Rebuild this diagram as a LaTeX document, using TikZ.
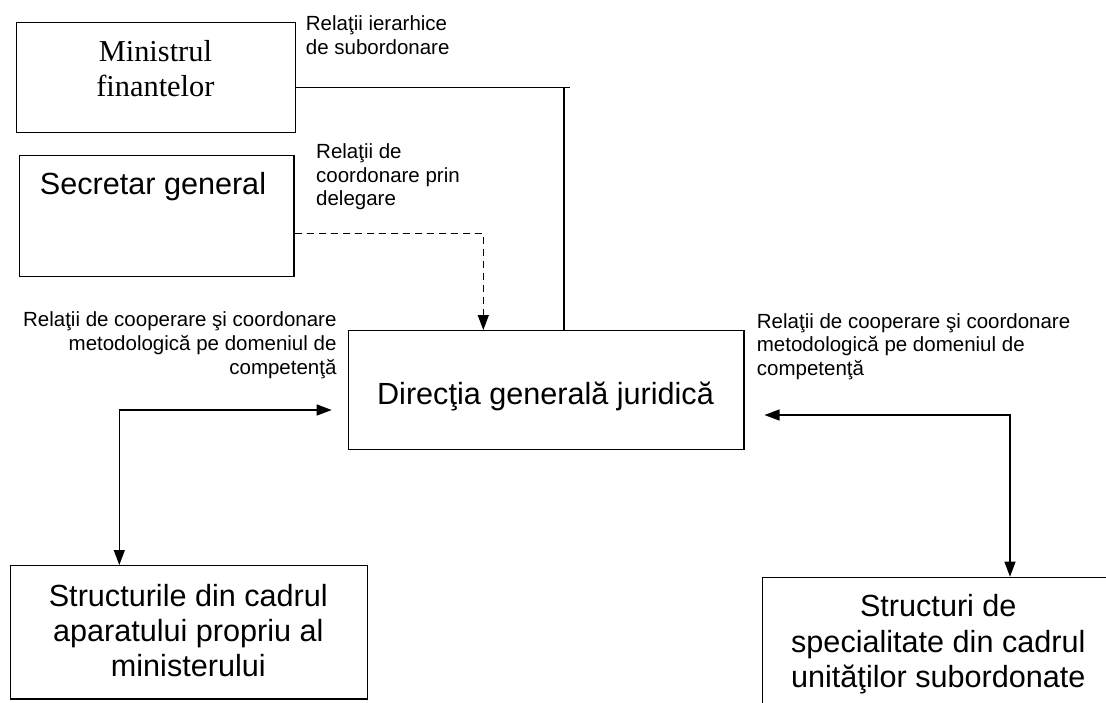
\documentclass[tikz,border=0pt]{standalone}
\usepackage{fontspec}
\setmainfont{Liberation Sans}
\newfontfamily\timesfont{Liberation Serif}
\usetikzlibrary{arrows.meta,calc}
\begin{document}
\begin{tikzpicture}[x=1pt,y=-1pt,
  box/.style={draw, line width=1.2pt, rectangle, inner sep=0pt, anchor=north west},
  conn/.style={line width=1.2pt},
  tri/.tip={Triangle[length=15pt,width=11pt]},
  lbl/.style={inner sep=0pt, font=\fontsize{20.5}{23.8}\selectfont},
  bigsans/.style={inner sep=0pt, anchor=base, font=\fontsize{30.6}{35.3}\selectfont},
  bigserif/.style={inner sep=0pt, anchor=base, font=\timesfont\fontsize{30.4}{35}\selectfont},
]
\clip (0,0) rectangle (1106,702);
\fill[white] (0,0) rectangle (1106,702);

% boxes
\node[box, minimum width=279.3pt, minimum height=110pt] (min) at (15.7,21.7) {};
\node[box, minimum width=274.3pt, minimum height=121pt] (sec) at (19,155) {};
\node[box, minimum width=395.6pt, minimum height=118.5pt] (dir) at (347.7,330) {};
\node[box, minimum width=356.7pt, minimum height=133.3pt] (str) at (10,565) {};
\node[box, minimum width=353.3pt, minimum height=150pt] (spec) at (761.7,576.7) {};

% box texts
\node[bigserif] (minT) at (155.4,61.7) {\begin{tabular}[t]{@{}c@{}}Ministrul\\finantelor\end{tabular}};
\node[bigsans] (secT) at (153,194.3) {Secretar general};
\node[bigsans] (dirT) at (545.5,404) {Direcţia generală juridică};
\node[bigsans] (strT) at (188.3,606) {\begin{tabular}[t]{@{}c@{}}Structurile din cadrul\\aparatului propriu al\\ministerului\end{tabular}};
\node[bigsans] (specT) at (938.3,616.7) {\begin{tabular}[t]{@{}c@{}}Structuri de\\specialitate din cadrul\\unităţilor subordonate\end{tabular}};

% labels
\node[lbl, anchor=base west] (l1) at (305.7,30.7) {\begin{tabular}[t]{@{}l@{}}Relaţii ierarhice\\de subordonare\end{tabular}};
\node[lbl, anchor=base west] (l2) at (316,158.3) {\begin{tabular}[t]{@{}l@{}}Relaţii de\\coordonare prin\\delegare\end{tabular}};
\node[lbl, anchor=base east] (l3) at (336.7,326.7) {\begin{tabular}[t]{@{}r@{}}Relaţii de cooperare şi coordonare\\metodologică pe domeniul de\\competenţă\end{tabular}};
\node[lbl, anchor=base west] (l4) at (756.7,328) {\begin{tabular}[t]{@{}l@{}}Relaţii de cooperare şi coordonare\\metodologică pe domeniul de\\competenţă\end{tabular}};

% connectors
\coordinate (j1) at (564,87.3);
\draw[conn] (min.east |- j1) -- ([xshift=6pt]j1);
\draw[conn] (j1) -- (j1 |- dir.north);

\coordinate (d1) at (483.3,233.3);
\draw[conn, dash pattern=on 7pt off 5pt, -tri] (sec.east |- d1) -| (d1 |- dir.north);

\coordinate (c1) at (119.3,410);
\draw[conn, tri-tri] ($(dir.west |- c1)+(-16,0)$) -- (c1) -- (c1 |- str.north);

\coordinate (c2) at (1010,415);
\draw[conn, tri-tri] ($(dir.east |- c2)+(20,0)$) -- (c2) -- (c2 |- spec.north);
\end{tikzpicture}
\end{document}
